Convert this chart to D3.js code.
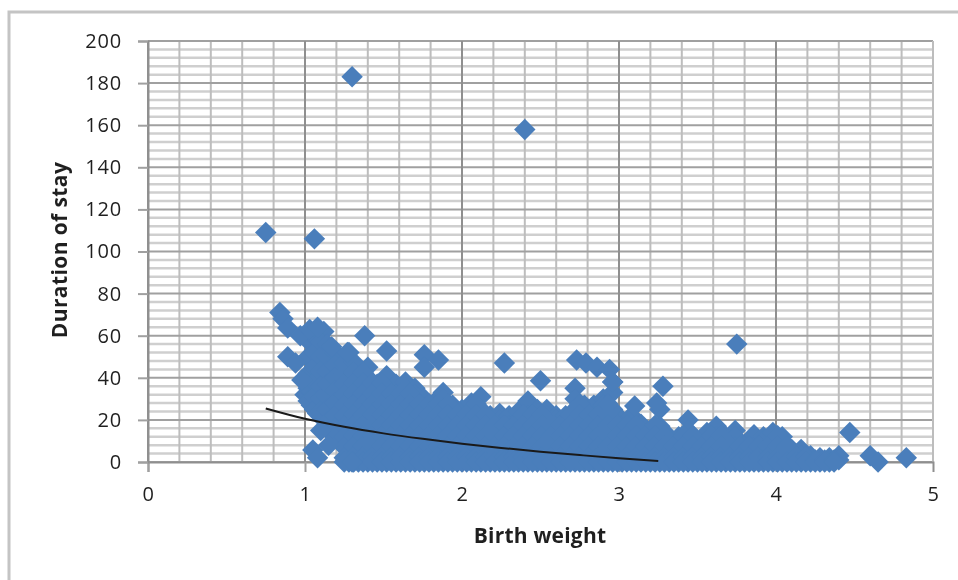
<!DOCTYPE html>
<html>
<head>
<meta charset="utf-8">
<script src="https://cdn.jsdelivr.net/npm/d3@7"></script>
<style>
  html, body { margin: 0; background: #fff; }
  svg { display: block; filter: blur(0.6px); }
  text { font-family: "Open Sans", sans-serif; fill: #1f1f1f; }
  .tick text { font-size: 20px; letter-spacing: 0.8px; }
  .title { font-size: 21px; font-weight: 700; }
</style>
</head>
<body>
<div id="chart"></div>
<script>
// tick labels
const weightTicks = [0, 1, 2, 3, 4, 5];
const stayTicks = [0, 20, 40, 60, 80, 100, 120, 140, 160, 180, 200];
const weightMinor = [0.2, 0.4, 0.6, 0.8, 1.2, 1.4, 1.6, 1.8, 2.2, 2.4, 2.6, 2.8, 3.2, 3.4, 3.6, 3.8, 4.2, 4.4, 4.6, 4.8];
const stayMinor = [4, 8, 12, 16, 24, 28, 32, 36, 44, 48, 52, 56, 64, 68, 72, 76, 84, 88, 92, 96,
  104, 108, 112, 116, 124, 128, 132, 136, 144, 148, 152, 156, 164, 168, 172, 176, 184, 188, 192, 196];

const bandWeight = [1.0, 1.04, 1.08, 1.12, 1.16, 1.22, 1.28, 1.34, 1.4, 1.46, 1.52, 1.58, 1.64, 1.7, 1.76, 1.82,
  1.88, 1.94, 2.0, 2.06, 2.12, 2.18, 2.24, 2.3, 2.36, 2.42, 2.48, 2.54, 2.6, 2.66, 2.72, 2.78, 2.84, 2.9, 2.96,
  3.02, 3.08, 3.14, 3.2, 3.26, 3.32, 3.38, 3.44, 3.5, 3.56, 3.62, 3.68, 3.74, 3.8, 3.86, 3.92, 3.98, 4.04, 4.1,
  4.16, 4.22, 4.28, 4.34, 4.4];
const bandStay = [
  [39, 32],
  [56, 48, 40, 33, 27],
  [58, 50, 43, 36, 29, 23],
  [62, 55, 47, 40, 33, 26, 20],
  [54, 47, 41, 35, 29, 23, 17],
  [50, 45, 40, 35, 30, 25, 20, 15, 10],
  [52, 45, 40, 35, 30, 25, 20, 15, 10, 5, 0],
  [42, 37, 32, 27, 22, 17, 12, 7, 2, 0],
  [45, 40, 35, 30, 25, 20, 15, 10, 5, 0],
  [37, 32, 27, 22, 17, 12, 7, 2, 0],
  [41, 35, 30, 25, 20, 15, 10, 5, 0],
  [37, 32, 27, 22, 17, 12, 7, 2, 0],
  [38, 35, 30, 25, 20, 15, 10, 5, 0],
  [35, 32, 27, 22, 17, 12, 7, 2, 0],
  [30, 25, 20, 15, 10, 5, 0],
  [28, 22, 17, 12, 7, 2, 0],
  [33, 30, 25, 20, 15, 10, 5, 0],
  [27, 22, 17, 12, 7, 2, 0],
  [25, 20, 15, 10, 5, 0],
  [28, 22, 17, 12, 7, 2, 0],
  [31, 25, 20, 15, 10, 5, 0],
  [22, 17, 12, 7, 2, 0],
  [23, 20, 15, 10, 5, 0],
  [22, 17, 12, 7, 2, 0],
  [24, 20, 15, 10, 5, 0],
  [29, 22, 17, 12, 7, 2, 0],
  [25, 20, 15, 10, 5, 0],
  [25, 22, 17, 12, 7, 2, 0],
  [22, 20, 15, 10, 5, 0],
  [22, 17, 12, 7, 2, 0],
  [35, 30, 25, 20, 15, 10, 5, 0],
  [27, 22, 17, 12, 7, 2, 0],
  [27, 20, 15, 10, 5, 0],
  [30, 27, 22, 17, 12, 7, 2, 0],
  [38, 33, 25, 20, 15, 10, 5, 0],
  [20, 17, 12, 7, 2, 0],
  [22, 15, 10, 5, 0],
  [18, 12, 7, 2, 0],
  [15, 10, 5, 0],
  [25, 17, 12, 7, 2, 0],
  [12, 10, 5, 0],
  [12, 7, 2, 0],
  [20, 15, 10, 5, 0],
  [10, 7, 2, 0],
  [14, 10, 5, 0],
  [17, 12, 7, 2, 0],
  [12, 10, 5, 0],
  [15, 12, 7, 2, 0],
  [8, 5, 0],
  [13, 7, 2, 0],
  [12, 10, 5, 0],
  [14, 7, 2, 0],
  [12, 10, 5, 0],
  [6, 2, 0],
  [6, 3, 0],
  [3, 0],
  [2, 0],
  [2, 0],
  [3, 1]
];

// more of the band, between the columns above
const fillWeight = [1.02, 1.06, 1.1, 1.14, 1.19, 1.25, 1.31, 1.37, 1.43, 1.49, 1.55, 1.61, 1.67, 1.73, 1.79, 1.85,
  1.91, 1.97, 2.03, 2.09, 2.15, 2.21, 2.27, 2.33, 2.39, 2.45, 2.51, 2.57, 2.63, 2.69, 2.75, 2.81, 2.87, 2.93, 2.99,
  3.05, 3.11, 3.17, 3.23, 3.29, 3.35, 3.41, 3.47, 3.53, 3.59, 3.65, 3.71, 3.77, 3.83, 3.89, 3.95, 4.01, 4.07, 4.13,
  4.19, 4.25, 4.31, 4.37];
const fillStay = [
  [50, 42, 35, 29],
  [60, 52, 45, 38, 31, 25],
  [57, 50, 43, 36, 30, 24],
  [56, 50, 43, 37, 31, 25, 19],
  [52, 46, 40, 34, 28, 22, 16, 12],
  [47, 42, 37, 32, 27, 22, 17, 12, 7, 2],
  [47.5, 42.5, 37.5, 32.5, 27.5, 22.5, 17.5, 12.5, 7.5, 2.5, 0],
  [42.5, 37.5, 32.5, 27.5, 22.5, 17.5, 12.5, 7.5, 2.5, 0],
  [37.5, 32.5, 27.5, 22.5, 17.5, 12.5, 7.5, 2.5, 0],
  [37.5, 32.5, 27.5, 22.5, 17.5, 12.5, 7.5, 2.5, 0],
  [32.5, 27.5, 22.5, 17.5, 12.5, 7.5, 2.5, 0],
  [32.5, 27.5, 22.5, 17.5, 12.5, 7.5, 2.5, 0],
  [32.5, 27.5, 22.5, 17.5, 12.5, 7.5, 2.5, 0],
  [27.5, 22.5, 17.5, 12.5, 7.5, 2.5, 0],
  [27.5, 22.5, 17.5, 12.5, 7.5, 2.5, 0],
  [27.5, 22.5, 17.5, 12.5, 7.5, 2.5, 0],
  [27.5, 22.5, 17.5, 12.5, 7.5, 2.5, 0],
  [22.5, 17.5, 12.5, 7.5, 2.5, 0],
  [22.5, 17.5, 12.5, 7.5, 2.5, 0],
  [27.5, 22.5, 17.5, 12.5, 7.5, 2.5, 0],
  [22.5, 17.5, 12.5, 7.5, 2.5, 0],
  [17.5, 12.5, 7.5, 2.5, 0],
  [17.5, 12.5, 7.5, 2.5, 0],
  [17.5, 12.5, 7.5, 2.5, 0],
  [22.5, 17.5, 12.5, 7.5, 2.5, 0],
  [22.5, 17.5, 12.5, 7.5, 2.5, 0],
  [22.5, 17.5, 12.5, 7.5, 2.5, 0],
  [17.5, 12.5, 7.5, 2.5, 0],
  [17.5, 12.5, 7.5, 2.5, 0],
  [22.5, 17.5, 12.5, 7.5, 2.5, 0],
  [27.5, 22.5, 17.5, 12.5, 7.5, 2.5, 0],
  [22.5, 17.5, 12.5, 7.5, 2.5, 0],
  [22.5, 17.5, 12.5, 7.5, 2.5, 0],
  [27.5, 22.5, 17.5, 12.5, 7.5, 2.5, 0],
  [17.5, 12.5, 7.5, 2.5, 0],
  [17.5, 12.5, 7.5, 2.5, 0],
  [17.5, 12.5, 7.5, 2.5, 0],
  [12.5, 7.5, 2.5, 0],
  [17.5, 12.5, 7.5, 2.5, 0],
  [12.5, 7.5, 2.5, 0],
  [7.5, 2.5, 0],
  [12.5, 7.5, 2.5, 0],
  [12.5, 7.5, 2.5, 0],
  [7.5, 2.5, 0],
  [12.5, 7.5, 2.5, 0],
  [12.5, 7.5, 2.5, 0],
  [7.5, 2.5, 0],
  [7.5, 2.5, 0],
  [7.5, 2.5, 0],
  [7.5, 2.5, 0],
  [7.5, 2.5, 0],
  [12.5, 7.5, 2.5, 0],
  [7.5, 2.5, 0],
  [2.5, 0],
  [2.5, 0],
  [1, 0],
  [1, 0],
  [1, 0]
];

// points standing clear of the band
const looseWeight = [1.3, 2.4, 0.75, 1.06, 0.84, 0.86, 0.89, 0.97, 1.03, 1.08, 0.89, 0.94, 0.98, 1.17, 1.27, 1.38,
  1.52, 1.76, 1.85, 1.76, 2.27, 2.5, 2.73, 2.79, 2.86, 2.94, 2.96, 3.1, 3.24, 3.28, 3.75, 4.47, 4.6, 4.65, 4.83,
  1.05, 1.08, 1.15, 1.1, 1.25, 1.3];
const looseStay = [183, 158, 109, 106, 71, 68, 63.6, 60, 63, 64, 50, 47, 39, 54.7, 52, 60,
  52.7, 51, 48.5, 45, 47, 38.6, 48.5, 47, 45, 44, 38, 26.6, 28, 36, 56, 14, 3, 0, 2,
  5.7, 2, 8, 15, 0, 0];

// trend line
const trendWeight = [0.75, 1, 1.25, 1.5, 1.75, 2, 2.25, 2.5, 2.75, 3, 3.25];
const trendStay = [25.4, 20.5, 16.7, 13.6, 11, 8.7, 6.7, 4.9, 3.3, 1.8, 0.5];

const width = 958;
const height = 580;
const margin = { top: 41, right: 25, bottom: 118, left: 148 };

const svg = d3.select('#chart')
  .append('svg')
  .attr('width', width)
  .attr('height', height);

// chart frame runs off the right and bottom of the picture
svg.append('rect')
  .attr('x', 9)
  .attr('y', 12)
  .attr('width', 1000)
  .attr('height', 700)
  .attr('fill', 'none')
  .attr('stroke', '#c4c4c4')
  .attr('stroke-width', 3);

const x = d3.scaleLinear().domain([0, 5]).range([margin.left, width - margin.right]);
const y = d3.scaleLinear().domain([0, 200]).range([height - margin.bottom, margin.top]);

// gridlines
const grid = svg.append('g');

grid.selectAll('.minor-h')
  .data(stayMinor)
  .enter().append('line')
  .attr('x1', x(0))
  .attr('x2', x(5))
  .attr('y1', d => y(d))
  .attr('y2', d => y(d))
  .attr('stroke', '#cfcfcf')
  .attr('stroke-width', 2.5);

grid.selectAll('.minor-v')
  .data(weightMinor)
  .enter().append('line')
  .attr('x1', d => x(d))
  .attr('x2', d => x(d))
  .attr('y1', y(0))
  .attr('y2', y(200))
  .attr('stroke', '#bdbdbd')
  .attr('stroke-width', 2);

grid.selectAll('.major-h')
  .data(stayTicks)
  .enter().append('line')
  .attr('x1', x(0))
  .attr('x2', x(5))
  .attr('y1', d => y(d))
  .attr('y2', d => y(d))
  .attr('stroke', '#a0a0a0')
  .attr('stroke-width', 2);

grid.selectAll('.major-v')
  .data(weightTicks)
  .enter().append('line')
  .attr('x1', d => x(d))
  .attr('x2', d => x(d))
  .attr('y1', y(0))
  .attr('y2', y(200))
  .attr('stroke', d => (d === 5 ? '#bdbdbd' : '#8f8f8f'))
  .attr('stroke-width', 2);

// axes
const xAxis = svg.append('g')
  .attr('transform', `translate(0, ${y(0)})`)
  .call(d3.axisBottom(x).tickValues(weightTicks).tickSize(10).tickPadding(15).tickFormat(d3.format('d')));

const yAxis = svg.append('g')
  .attr('transform', `translate(${x(0)}, 0)`)
  .call(d3.axisLeft(y).tickValues(stayTicks).tickSize(10).tickPadding(16).tickFormat(d3.format('d')));

[xAxis, yAxis].forEach(axis => {
  axis.selectAll('.domain').attr('stroke', '#8f8f8f').attr('stroke-width', 2);
  axis.selectAll('.tick line').attr('stroke', '#a0a0a0').attr('stroke-width', 2);
  axis.selectAll('.tick text').attr('fill', '#1f1f1f').style('font-family', '"Open Sans", sans-serif');
});
xAxis.selectAll('.tick').filter(d => d === 5).select('line').attr('stroke', 'none');

// markers
const points = [];
bandWeight.forEach((w, i) => {
  bandStay[i].forEach(s => points.push([w, s]));
});
fillWeight.forEach((w, i) => {
  fillStay[i].forEach(s => points.push([w, s]));
});
looseWeight.forEach((w, i) => points.push([w, looseStay[i]]));

svg.append('g')
  .selectAll('path')
  .data(points)
  .enter().append('path')
  .attr('d', d3.symbol().type(d3.symbolSquare).size(230))
  .attr('transform', d => `translate(${x(d[0])}, ${y(d[1])}) rotate(45)`)
  .attr('fill', '#4a7ebb');

// trend line
const trend = d3.line()
  .x(d => x(d[0]))
  .y(d => y(d[1]))
  .curve(d3.curveMonotoneX);

svg.append('path')
  .attr('d', trend(trendWeight.map((w, i) => [w, trendStay[i]])))
  .attr('fill', 'none')
  .attr('stroke', '#1a1a1a')
  .attr('stroke-width', 2);

// axis titles
svg.append('text')
  .attr('class', 'title')
  .attr('x', 540)
  .attr('y', 543)
  .attr('text-anchor', 'middle')
  .attr('letter-spacing', 0.2)
  .text('Birth weight');

svg.append('text')
  .attr('class', 'title')
  .attr('transform', 'translate(67, 250) rotate(-90)')
  .attr('text-anchor', 'middle')
  .attr('letter-spacing', 0.4)
  .text('Duration of stay');
</script>
</body>
</html>
